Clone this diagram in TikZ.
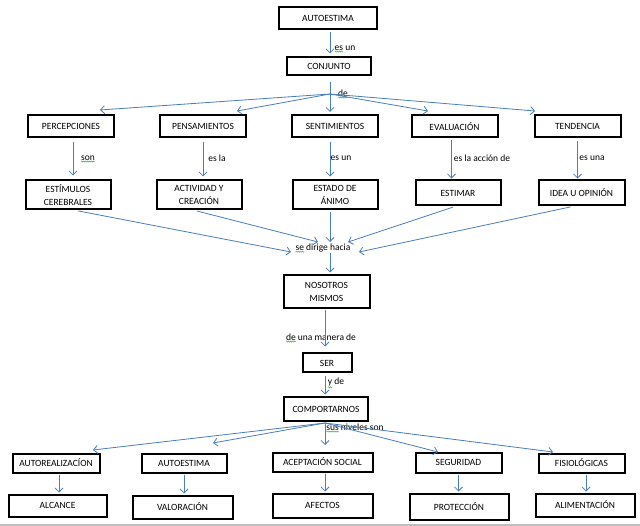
\documentclass[tikz,border=0pt]{standalone}
\usepackage{fontspec}
\setmainfont{Carlito}
\usetikzlibrary{arrows.meta,decorations.pathmorphing}
\definecolor{arrblue}{HTML}{4A7EBB}
\definecolor{sqgreen}{HTML}{4CAF50}
\newcommand\gw[1]{\tikz[baseline=(w.base)]{\node[inner sep=0pt, outer sep=0pt] (w) {#1};
  \draw[sqgreen, line width=0.5pt, overlay, decorate, decoration={snake, amplitude=0.6pt, segment length=2pt}] ([yshift=-1.2pt]w.south west) -- ([yshift=-1.2pt]w.south east);}}
\begin{document}
\begin{tikzpicture}[x=1pt,y=-1pt,
  box/.style={draw, line width=2pt, inner sep=1pt, align=center, font=\fontsize{9.5}{13}\selectfont},
  lbl/.style={inner sep=0pt, font=\fontsize{9.5}{11}\selectfont},
  arr/.style={draw=arrblue, line width=0.8pt, -{Straight Barb[length=4pt,width=8pt]}},
  ln/.style={draw=arrblue, line width=0.8pt}]
\useasboundingbox[fill=white] (0,0) rectangle (640,526);
\coordinate (cx) at (330,0);
\coordinate (cy) at (325,0);

% top
\node[box, minimum width=98pt, minimum height=22pt] (auto) at (328,18.5) {AUTOESTIMA};
\node[box, minimum width=84pt, minimum height=18pt] (conj) at (329,66.5) {CONJUNTO};

% row 2
\node[box, minimum width=86pt, minimum height=22pt] (perc) at (71,126.5) {PERCEPCIONES};
\node[box, minimum width=86pt, minimum height=22pt] (pens) at (203,126.5) {PENSAMIENTOS};
\node[box, minimum width=86pt, minimum height=22pt] (sent) at (335,126.5) {SENTIMIENTOS};
\node[box, minimum width=86pt, minimum height=22pt] (eval) at (454.5,126.5) {EVALUACIÓN};
\node[box, minimum width=86pt, minimum height=22pt] (tend) at (577.5,126.5) {TENDENCIA};

% row 3
\node[box, minimum width=85pt, minimum height=29pt] (estim) at (68,195) {ESTÍMULOS\\CEREBRALES};
\node[box, minimum width=85pt, minimum height=29pt] (activ) at (199,195) {ACTIVIDAD Y\\CREACIÓN};
\node[box, minimum width=85pt, minimum height=29pt] (estado) at (335,195) {ESTADO DE\\ÁNIMO};
\node[box, minimum width=85pt, minimum height=25pt] (estimar) at (458,193) {ESTIMAR};
\node[box, minimum width=86pt, minimum height=25pt] (idea) at (581.5,193) {IDEA U OPINIÓN};

% middle
\node[box, minimum width=86pt, minimum height=33pt] (nos) at (326.5,292) {NOSOTROS\\MISMOS};
\node[box, minimum width=49pt, minimum height=19pt] (ser) at (327,363) {SER};
\node[box, minimum width=84pt, minimum height=24pt] (comp) at (326,409.5) {COMPORTARNOS};

% row 4
\node[box, minimum width=87pt, minimum height=19pt] (autor) at (56,463) {AUTOREALIZACÍON};
\node[box, minimum width=85pt, minimum height=19pt] (autoe) at (184,463) {AUTOESTIMA};
\node[box, minimum width=100pt, minimum height=19pt] (acep) at (322.5,462) {ACEPTACIÓN SOCIAL};
\node[box, minimum width=86pt, minimum height=20pt] (seg) at (458.5,462.5) {SEGURIDAD};
\node[box, minimum width=86pt, minimum height=19pt] (fis) at (581.5,463) {FISIOLÓGICAS};

% row 5
\node[box, minimum width=98pt, minimum height=22pt] (alc) at (57.5,505.5) {ALCANCE};
\node[box, minimum width=100pt, minimum height=23pt] (val) at (182.5,507) {VALORACIÓN};
\node[box, minimum width=100pt, minimum height=24pt] (afe) at (322.5,505.5) {AFECTOS};
\node[box, minimum width=99pt, minimum height=26pt] (prot) at (459,506.5) {PROTECCIÓN};
\node[box, minimum width=99pt, minimum height=23pt] (alim) at (585,505) {ALIMENTACIÓN};

% labels
\node[lbl] (l1) at (345,48) {\gw{es} un};
\node[lbl] (l2) at (343,93) {\gw{de}};
\node[lbl] (l3) at (88,158) {\gw{son}};
\node[lbl] (l4) at (217,158) {es la};
\node[lbl] (l5) at (341,158) {es un};
\node[lbl] (l6) at (482,158) {es la acción de};
\node[lbl] (l7) at (592,158) {es una};
\node[lbl] (l8) at (323,248) {\gw{se} dirige hacia};
\node[lbl] (l9) at (321,337) {\gw{de} una manera de};
\node[lbl] (l10) at (336,382) {\gw{y} de};
\node[lbl] (l11) at (355,427) {\gw{sus} niveles son};

% top connectors
\draw[arr, shorten <=2pt, shorten >=3pt] (auto.south -| cx) -- (conj.north -| cx);
\coordinate (de) at (330,94);
\draw[ln, shorten <=6pt] (conj.south -| cx) -- (de);
\coordinate (t1) at (100,110);
\coordinate (t2) at (237,111);
\coordinate (t3) at (330,112);
\coordinate (t4) at (428,111);
\coordinate (t5) at (535,111);
\foreach \t in {t1,t2,t3,t4,t5} \draw[arr] (de) -- (\t);

% row 2 -> row 3
\draw[arr, shorten <=4pt, shorten >=4pt] ([xshift=2pt]perc.south) -- ([xshift=2pt]perc.south |- estim.north);
\draw[arr, shorten <=4pt, shorten >=3pt] (pens.south) -- (pens.south |- activ.north);
\draw[arr, shorten <=4pt, shorten >=3pt] (sent.south -| cx) -- (estado.north -| cx);
\draw[arr, shorten <=2pt, shorten >=1pt] ([xshift=-3pt]eval.south) -- ([xshift=-3pt]eval.south |- estimar.north);
\draw[arr, shorten <=3pt, shorten >=1pt] (tend.south) -- (tend.south |- idea.north);

% convergence
\coordinate (s1) at (291,252);
\coordinate (s2) at (318,242);
\coordinate (s3) at (330,242);
\coordinate (s4) at (348,242);
\coordinate (s5) at (359,252);
\draw[arr, shorten <=2pt] ([xshift=8pt]estim.south) -- (s1);
\draw[arr, shorten <=2pt] ([xshift=-4pt]activ.south) -- (s2);
\draw[arr, shorten <=2pt] (estado.south -| cx) -- (s3);
\draw[arr, shorten <=2pt] ([xshift=-3pt]estimar.south) -- (s4);
\draw[arr, shorten <=2pt] ([xshift=-9pt]idea.south) -- (s5);
\draw[arr, shorten <=1pt, shorten >=2pt] (l8.south -| cx) -- (nos.north -| cx);

% middle chain
\draw[arr, shorten <=1pt, shorten >=6pt] (nos.south -| cy) -- (ser.north -| cy);
\draw[arr, shorten <=3pt, shorten >=2pt] (ser.south -| cy) -- (comp.north -| cy);

% bottom fan
\coordinate (ap) at (325,423);
\coordinate (b1) at (93,450);
\coordinate (b2) at (213,443);
\coordinate (b3) at (325,445);
\coordinate (b4) at (438,452);
\coordinate (b5) at (553,452);
\foreach \b in {b1,b2,b3,b4,b5} \draw[arr] (ap) -- (\b);

% row 4 -> row 5
\draw[arr, shorten <=1pt, shorten >=1pt] ([xshift=3pt]autor.south) -- ([xshift=3pt]autor.south |- alc.north);
\draw[arr, shorten <=1pt, shorten >=1pt] (autoe.south) -- (autoe.south |- val.north);
\draw[arr, shorten <=1pt, shorten >=1pt] ([xshift=2.5pt]acep.south) -- ([xshift=2.5pt]acep.south |- afe.north);
\draw[arr, shorten <=1pt, shorten >=1pt] (seg.south) -- (seg.south |- prot.north);
\draw[arr, shorten <=1pt, shorten >=1pt] ([xshift=4.5pt]fis.south) -- ([xshift=4.5pt]fis.south |- alim.north);

% bottom rule
\draw[black!25, line width=1.5pt] (0,525) -- (640,525);
\end{tikzpicture}
\end{document}
